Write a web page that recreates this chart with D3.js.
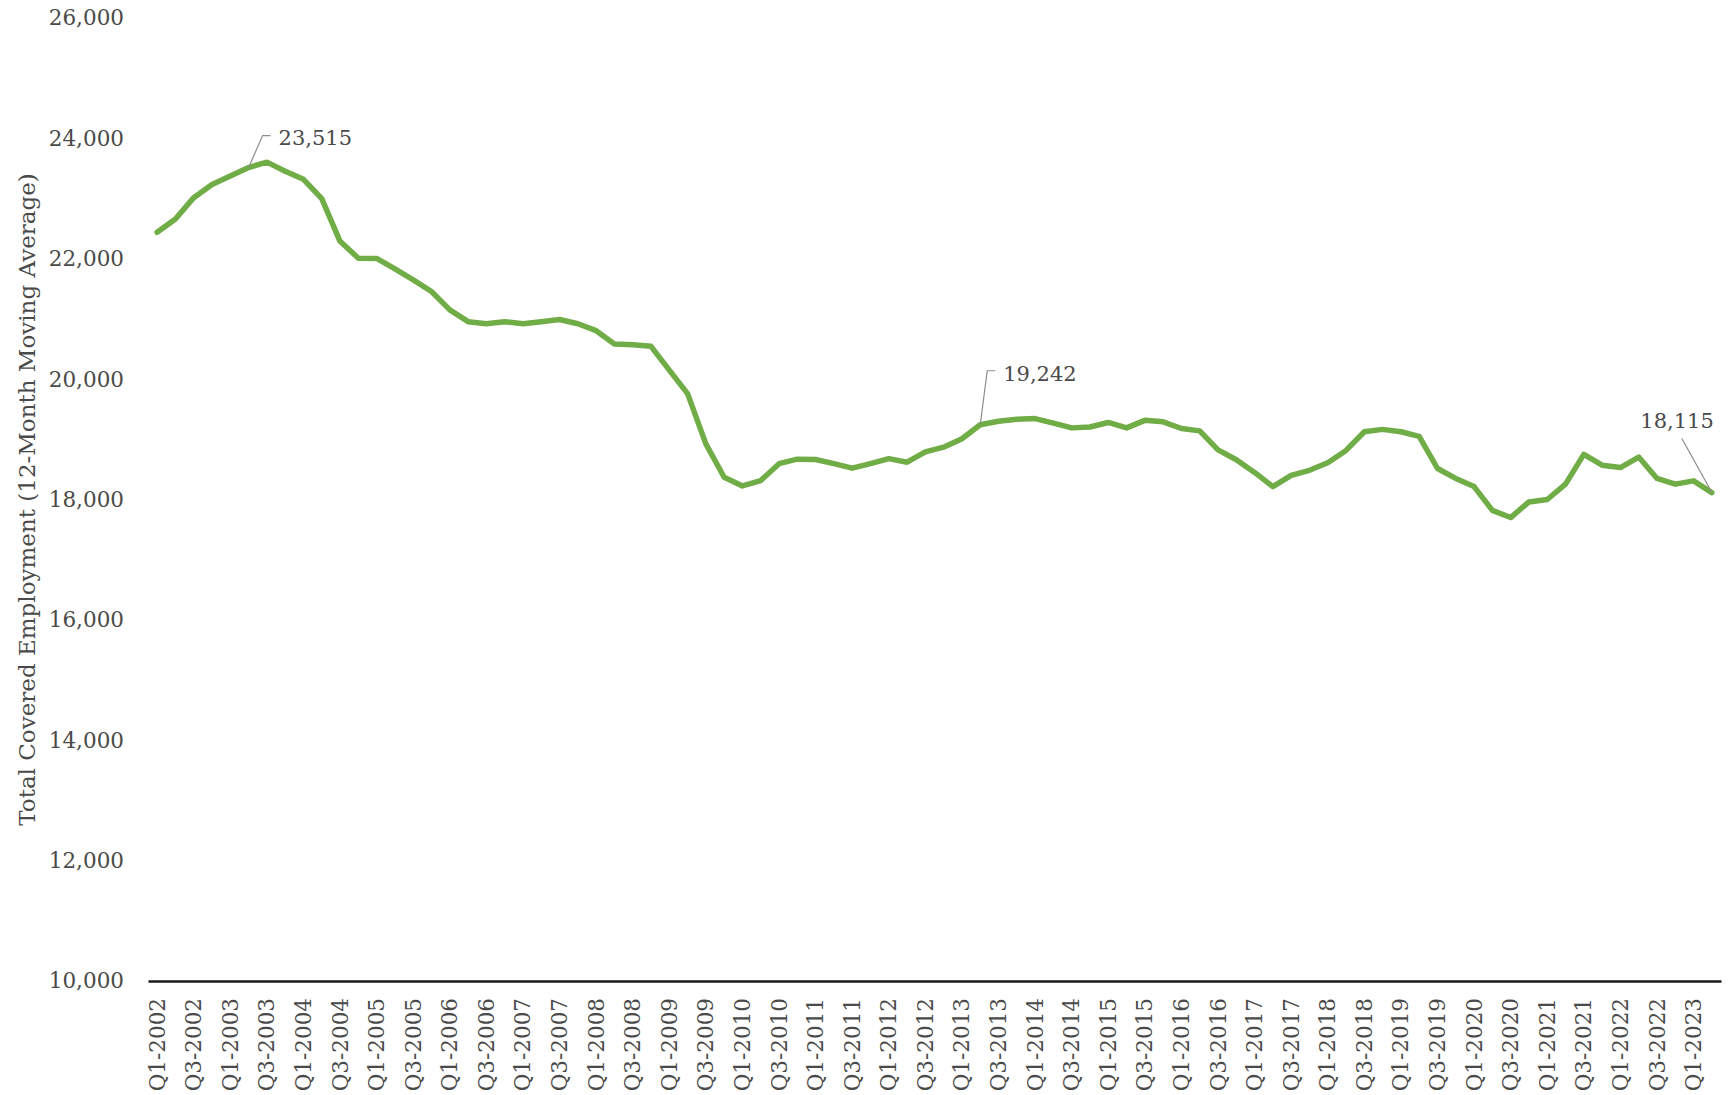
<!DOCTYPE html>
<html>
<head>
<meta charset="utf-8">
<script src="https://cdn.jsdelivr.net/npm/d3@7"></script>
<style>
  body { margin: 0; background: #fff; }
  svg text { font-family: 'DejaVu Serif', serif; fill: #4a4a4a; }
</style>
</head>
<body>
<div id="chart"></div>
<script>
// Quarters shown on the x axis, Q1-2002 through Q2-2023.
const firstYear = 2002;
const lastYear = 2023;
const lastQuarter = 2;

// Total covered employment, 12-month moving average, one value per quarter.
const employment = [
  22440, 22660, 23015, 23235, 23375, 23515, 23605, 23455, 23320, 23000,
  22290, 22010, 22005, 21830, 21650, 21455, 21150, 20955, 20920, 20955,
  20920, 20955, 20990, 20920, 20805, 20585, 20570, 20545, 20150, 19760,
  18925, 18370, 18225, 18315, 18595, 18670, 18665, 18595, 18520, 18595,
  18680, 18620, 18790, 18870, 19010, 19242, 19300, 19335, 19345, 19270,
  19190, 19205, 19280, 19190, 19315, 19290, 19180, 19140, 18825, 18660,
  18450, 18215, 18400, 18485, 18610, 18815, 19125, 19165, 19125, 19050,
  18515, 18350, 18215, 17820, 17700, 17960, 18000, 18255, 18750, 18570,
  18530, 18705, 18350, 18255, 18310, 18115
];

// Y axis ticks.
const yTicks = [10000, 12000, 14000, 16000, 18000, 20000, 22000, 24000, 26000];

// Labelled points: index into employment and the text shown.
const calloutIndex = [5, 45, 85];
const calloutText = ['23,515', '19,242', '18,115'];

const yTitle = 'Total Covered Employment (12-Month Moving Average)';

const quarters = [];
for (let y = firstYear; y <= lastYear; y += 1) {
  for (let q = 1; q <= 4; q += 1) {
    if (y === lastYear && q > lastQuarter) break;
    quarters.push(`Q${q}-${y}`);
  }
}

const width = 1736;
const height = 1095;
const margin = { top: 18, right: 15, bottom: 114, left: 148 };

const svg = d3.select('#chart')
  .append('svg')
  .attr('width', width)
  .attr('height', height);

const x = d3.scaleBand()
  .domain(quarters)
  .range([margin.left, width - margin.right])
  .padding(0);

const y = d3.scaleLinear()
  .domain([10000, 26000])
  .range([height - margin.bottom, margin.top]);

const cx = (i) => x(quarters[i]) + x.bandwidth() / 2;

// Y axis: labels only
const yAxis = svg.append('g')
  .attr('transform', `translate(${margin.left},0)`)
  .call(d3.axisLeft(y).tickValues(yTicks).tickSize(0).tickPadding(24)
    .tickFormat(d3.format(',')));
yAxis.select('.domain').remove();
yAxis.selectAll('text')
  .style('font-size', '21.5px')
  .style('font-family', "'DejaVu Serif', serif")
  .attr('fill', '#4a4a4a');

// X axis: every other quarter labelled
const xAxis = svg.append('g')
  .attr('transform', `translate(0,${y(10000)})`)
  .call(d3.axisBottom(x)
    .tickValues(quarters.filter((d, i) => i % 2 === 0))
    .tickSize(0)
    .tickSizeOuter(0));
xAxis.select('.domain')
  .attr('stroke', '#1a1a1a')
  .attr('stroke-width', 2.5);
xAxis.selectAll('text')
  .style('font-size', '21.5px')
  .style('font-family', "'DejaVu Serif', serif")
  .attr('fill', '#4a4a4a')
  .attr('text-anchor', 'end')
  .attr('transform', 'rotate(-90)')
  .attr('x', -17)
  .attr('y', 0)
  .attr('dy', '0.35em');

// Y axis title
svg.append('text')
  .attr('transform', `translate(27,${(y(10000) + y(26000)) / 2}) rotate(-90)`)
  .attr('text-anchor', 'middle')
  .attr('dy', '0.35em')
  .style('font-size', '23px')
  .text(yTitle);

// The series line
const line = d3.line()
  .x((d, i) => cx(i))
  .y((d) => y(d));

svg.append('path')
  .datum(employment)
  .attr('fill', 'none')
  .attr('stroke', '#70AD47')
  .attr('stroke-width', 5.5)
  .attr('stroke-linejoin', 'round')
  .attr('stroke-linecap', 'round')
  .attr('d', line);

// Callouts: leader line offsets (elbow and end) and text anchor
const calloutLayout = [
  { elbow: [14, -32], end: [22, -32], text: [30, -30], anchor: 'start' },
  { elbow: [7, -54], end: [15, -54], text: [23, -51], anchor: 'start' },
  { elbow: [-30, -54], end: [-30, -54], text: [2, -72], anchor: 'end' },
];

calloutIndex.forEach((idx, k) => {
  const px = cx(idx);
  const py = y(employment[idx]);
  const lay = calloutLayout[k];
  svg.append('path')
    .attr('fill', 'none')
    .attr('stroke', '#8c8c8c')
    .attr('stroke-width', 1.2)
    .attr('d', `M${px},${py}L${px + lay.elbow[0]},${py + lay.elbow[1]}L${px + lay.end[0]},${py + lay.end[1]}`);
  svg.append('text')
    .attr('x', px + lay.text[0])
    .attr('y', py + lay.text[1])
    .attr('dy', '0.35em')
    .attr('text-anchor', lay.anchor)
    .style('font-size', '21px')
    .text(calloutText[k]);
});
</script>
</body>
</html>
